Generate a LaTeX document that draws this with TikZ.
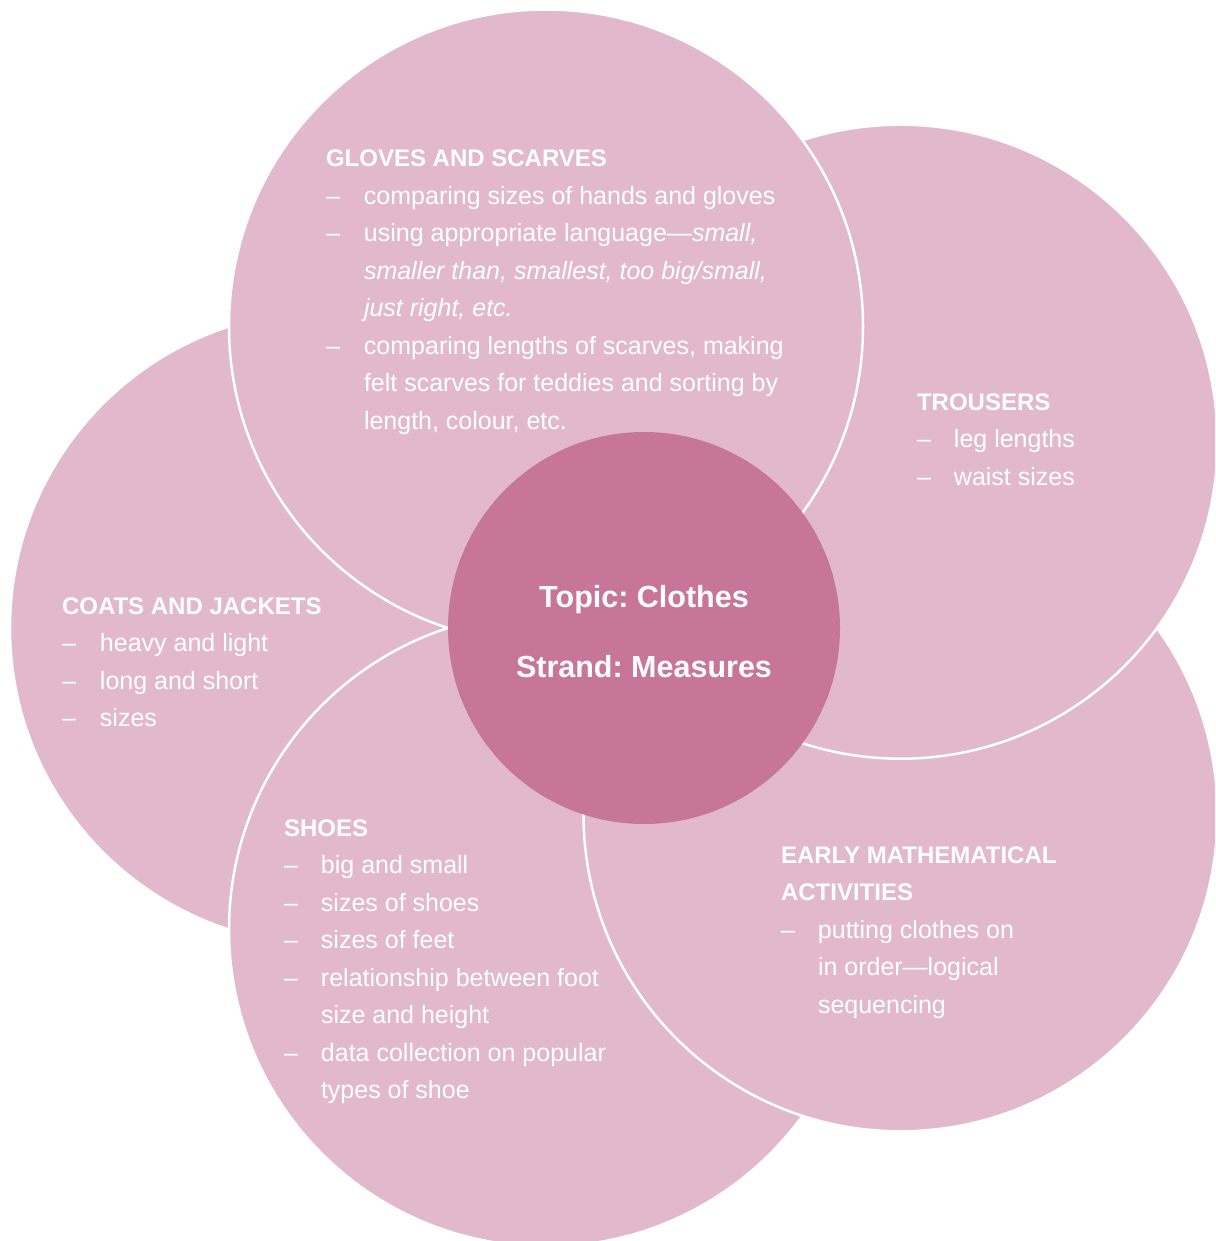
\documentclass[tikz,border=0pt]{standalone}
\usepackage{fontspec}
\setmainfont{Liberation Sans}
\definecolor{petalpink}{HTML}{E2B8CC}
\definecolor{corepink}{HTML}{C7769A}
\newcommand{\hd}[1]{\multicolumn{2}{@{}l@{}}{\fontsize{24}{37.5}\selectfont\bfseries #1}}
\frenchspacing
\begin{document}
\begin{tikzpicture}[x=1pt,y=-1pt,
  petal/.style={circle,fill=petalpink,draw=white,line width=2.5pt,minimum size=634pt,inner sep=0pt},
  core/.style={circle,fill=corepink,minimum size=392pt,inner sep=0pt},
  block/.style={anchor=base west,inner sep=0pt,outer sep=0pt,text=white,font=\fontsize{25}{37.5}\selectfont},
  title/.style={anchor=base,inner sep=0pt,text=white,font=\fontsize{30.5}{36}\selectfont\bfseries}]
\useasboundingbox (0,0) rectangle (1215,1241);
\clip (0,0) rectangle (1215,1241);
% petals (drawing order gives the visible white outlines)
\node[petal] (coats) at (327,628) {};
\node[petal] (shoes) at (546,929.5) {};
\node[petal] (early) at (900.5,814.3) {};
\node[petal] (trousers) at (900.5,441.7) {};
\node[petal] (gloves) at (546,326.5) {};
\node[core] (centre) at (644,628) {};
% centre text
\node[title] (topic) at (644,607) {Topic: Clothes};
\node[title] (strand) at (644,677) {Strand: Measures};
% text blocks
\node[block] (glovestext) at (326,167) {\begin{tabular}[t]{@{}p{38pt}@{}l@{}}
\hd{GLOVES AND SCARVES}\\
– & comparing sizes of hands and gloves\\
– & using appropriate language—\textit{small,}\\
  & \textit{smaller than, smallest, too big/small,}\\
  & \textit{just right, etc.}\\
– & comparing lengths of scarves, making\\
  & felt scarves for teddies and sorting by\\
  & length, colour, etc.
\end{tabular}};
\node[block] (trouserstext) at (917,410) {\begin{tabular}[t]{@{}p{37pt}@{}l@{}}
\hd{TROUSERS}\\
– & leg lengths\\
– & waist sizes
\end{tabular}};
\node[block] (coatstext) at (62,614) {\begin{tabular}[t]{@{}p{38pt}@{}l@{}}
\hd{COATS AND JACKETS}\\
– & heavy and light\\
– & long and short\\
– & sizes
\end{tabular}};
\node[block] (shoestext) at (284,836) {\begin{tabular}[t]{@{}p{37pt}@{}l@{}}
\hd{SHOES}\\
– & big and small\\
– & sizes of shoes\\
– & sizes of feet\\
– & relationship between foot\\
  & size and height\\
– & data collection on popular\\
  & types of shoe
\end{tabular}};
\node[block] (earlytext) at (781,863) {\begin{tabular}[t]{@{}p{37pt}@{}l@{}}
\hd{EARLY MATHEMATICAL}\\
\hd{ACTIVITIES}\\
– & putting clothes on\\
  & in order—logical\\
  & sequencing
\end{tabular}};
\end{tikzpicture}
\end{document}
